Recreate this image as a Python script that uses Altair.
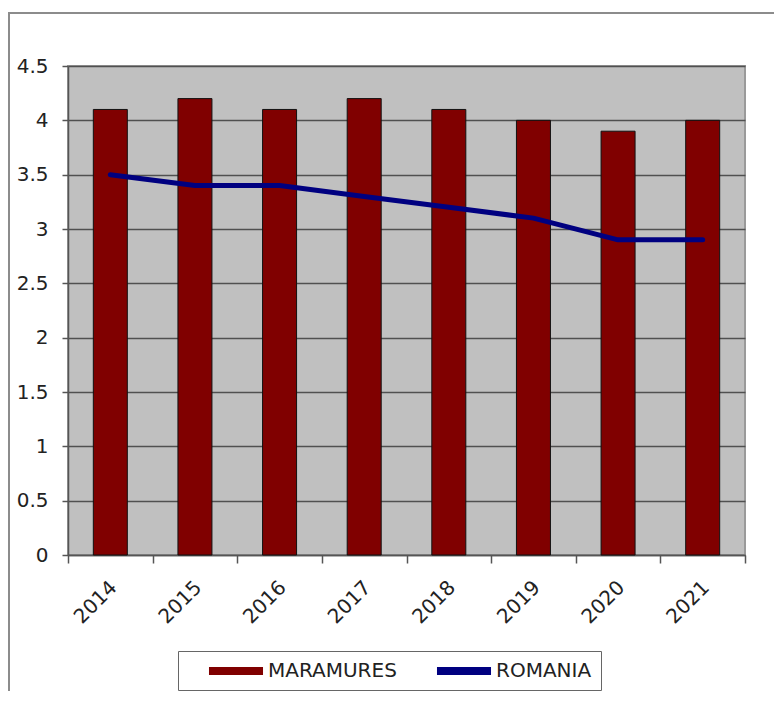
import altair as alt
import pandas as pd

years = ["2014", "2015", "2016", "2017", "2018", "2019", "2020", "2021"]
maramures = [4.1, 4.2, 4.1, 4.2, 4.1, 4.0, 3.9, 4.0]
romania = [3.5, 3.4, 3.4, 3.3, 3.2, 3.1, 2.9, 2.9]
y_ticks = [0, 0.5, 1, 1.5, 2, 2.5, 3, 3.5, 4, 4.5]
series_names = ["MARAMURES", "ROMANIA"]
series_colors = ["#800000", "#000080"]

bars_df = pd.DataFrame({"year": years, "value": maramures, "series": series_names[0]})
line_df = pd.DataFrame({"year": years, "value": romania, "series": series_names[1]})

FONT = "DejaVu Sans"

x_enc = alt.X(
    "year:N",
    sort=years,
    scale=alt.Scale(paddingInner=0, paddingOuter=0),
    axis=alt.Axis(
        title=None,
        labelAngle=-45,
        labelAlign="right",
        labelBaseline="middle",
        labelPadding=21,
        labelOffset=3,
        labelFontSize=20,
        labelFont=FONT,
        labelColor="#222222",
        tickBand="extent",
        tickSize=8,
        tickColor="#555555",
        tickWidth=1.5,
        domainColor="#555555",
        domainWidth=1.5,
        grid=False,
    ),
)
y_enc = alt.Y(
    "value:Q",
    scale=alt.Scale(domain=[0, 4.5], nice=False, zero=True),
    axis=alt.Axis(
        title=None,
        values=y_ticks,
        format="~g",
        labelFontSize=20,
        labelFont=FONT,
        labelColor="#222222",
        labelPadding=14,
        tickSize=6,
        tickColor="#555555",
        tickWidth=1.5,
        domainColor="#555555",
        domainWidth=1.5,
        grid=True,
        gridColor="#505050",
        gridWidth=1.5,
    ),
)

border = alt.Chart(pd.DataFrame({"k": [0]})).mark_rect(
    filled=False, stroke="#8c8c8c", strokeWidth=2
).encode(
    x=alt.value(-59), x2=alt.value(760), y=alt.value(-53), y2=alt.value(700)
)

bars = alt.Chart(bars_df).mark_bar(size=34, stroke="#111111", strokeWidth=1).encode(
    x=x_enc,
    y=y_enc,
    color=alt.Color(
        "series:N",
        scale=alt.Scale(domain=series_names, range=series_colors),
        legend=alt.Legend(
            title=None,
            orient="none",
            legendX=110,
            legendY=585,
            direction="horizontal",
            symbolType="M-2.5,-0.38H2.5V0.38H-2.5Z",
            symbolSize=467,
            symbolOffset=38,
            symbolStrokeWidth=0,
            labelFontSize=20,
            labelFont=FONT,
            labelColor="#222222",
            labelOffset=21,
            columnPadding=18,
            padding=9,
            strokeColor="#666666",
            fillColor="#ffffff",
        ),
    ),
)

line = alt.Chart(line_df).mark_line(strokeWidth=5, strokeCap="round", strokeJoin="round").encode(
    x=alt.X("year:N", sort=years),
    y=alt.Y("value:Q"),
    color=alt.value("#000080"),
)

chart = (
    alt.layer(border, bars, line)
    .properties(
        width=677,
        height=489,
        autosize=alt.AutoSizeParams(type="none"),
        padding={"left": 60, "top": 58, "right": 29, "bottom": 136},
        background="#ffffff",
    )
    .configure_view(fill="#c0c0c0", stroke="#9a9a9a", strokeWidth=2)
)

chart.save("out.html", embed_options={"renderer": "svg", "actions": False})
